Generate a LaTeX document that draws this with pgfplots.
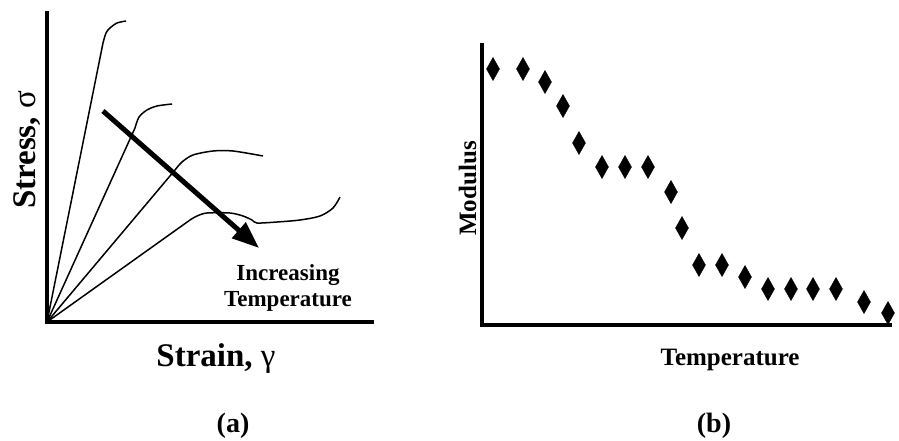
\documentclass[border=0pt]{standalone}
\usepackage{fontspec}
\setmainfont{Liberation Serif}
\usepackage{pgfplots}
\pgfplotsset{compat=1.18}
\usetikzlibrary{arrows.meta}
\begin{document}
\begin{tikzpicture}
\path[use as bounding box] (0pt,0pt) rectangle (899pt,440pt);
% ---------- (a) stress-strain ----------
\begin{axis}[at={(47pt,118pt)}, anchor=south west, scale only axis,
  width=325pt, height=309pt, xmin=0, xmax=325, ymin=0, ymax=309,
  axis lines=left, axis line style={-, line width=3.8pt, line cap=rect},
  xtick=\empty, ytick=\empty, clip=false,
  xlabel={\fontsize{33}{36}\selectfont\bfseries Strain, {\mdseries γ}},
  xlabel style={at={(axis description cs:0.52,-0.1456)}, anchor=base, inner sep=0pt},
  ylabel={\fontsize{33}{36}\selectfont\bfseries Stress, {\mdseries σ}},
  ylabel style={at={(axis description cs:-0.034,0.557)}, anchor=base, inner sep=0pt},
]
\addplot[black, line width=1.5pt] coordinates {(0,0) (56,279)};
\addplot[black, line width=1.5pt, smooth] coordinates {(56,279) (59,289) (63,294) (70,299) (79,301)};
\addplot[black, line width=1.5pt] coordinates {(0,0) (88,194)};
\addplot[black, line width=1.5pt, smooth] coordinates {(88,194) (92,205) (100,212) (110,216) (125,218)};
\addplot[black, line width=1.5pt] coordinates {(0,0) (128,152)};
\addplot[black, line width=1.5pt, smooth] coordinates {(128,152) (135,160) (146,167) (166,171) (186,171) (216,166)};
\addplot[black, line width=1.5pt] coordinates {(0,0) (143,102)};
\addplot[black, line width=1.5pt, smooth] coordinates {(143,102) (150,106) (160,109) (183,109) (196,106) (205,102) (210,99) (230,100) (253,102) (273,106) (286,114) (293,125)};
\addplot[black, line width=5pt, -{Triangle[length=27pt,width=20pt]}] coordinates {(56,211) (212,74)};
\node[anchor=base, font=\fontsize{23}{26}\selectfont\bfseries] at (axis cs:241,42) {Increasing};
\node[anchor=base, font=\fontsize{23}{26}\selectfont\bfseries] at (axis cs:241,16) {Temperature};
\end{axis}
% ---------- (b) modulus-temperature ----------
\begin{axis}[at={(482pt,115pt)}, anchor=south west, scale only axis,
  width=408pt, height=280pt, xmin=0, xmax=408, ymin=0, ymax=280,
  axis lines=left, axis line style={-, line width=3.2pt, line cap=rect},
  xtick=\empty, ytick=\empty, clip=false,
  xlabel={\fontsize{25}{28}\selectfont\bfseries Temperature},
  xlabel style={at={(axis description cs:0.608,-0.146)}, anchor=base, inner sep=0pt},
  ylabel={\fontsize{25}{28}\selectfont\bfseries Modulus},
  ylabel style={at={(axis description cs:-0.0147,0.4875)}, anchor=base, inner sep=0pt},
]
\addplot[only marks, mark=diamond*, mark size=11.5pt, mark options={xscale=0.75, fill=black, draw=black}]
coordinates {(11,256) (41,256) (63,243) (81,219) (97,182) (120,158) (143,158) (166,158) (189,133) (200,97) (217,60) (240,60) (263,48) (286,36) (309,36) (331,36) (354,36) (382,23) (406,12)};
\end{axis}
\node[anchor=base, font=\fontsize{28}{30}\selectfont\bfseries] at (233pt,8pt) {(a)};
\node[anchor=base, font=\fontsize{28}{30}\selectfont\bfseries] at (714pt,8pt) {(b)};
\end{tikzpicture}
\end{document}
